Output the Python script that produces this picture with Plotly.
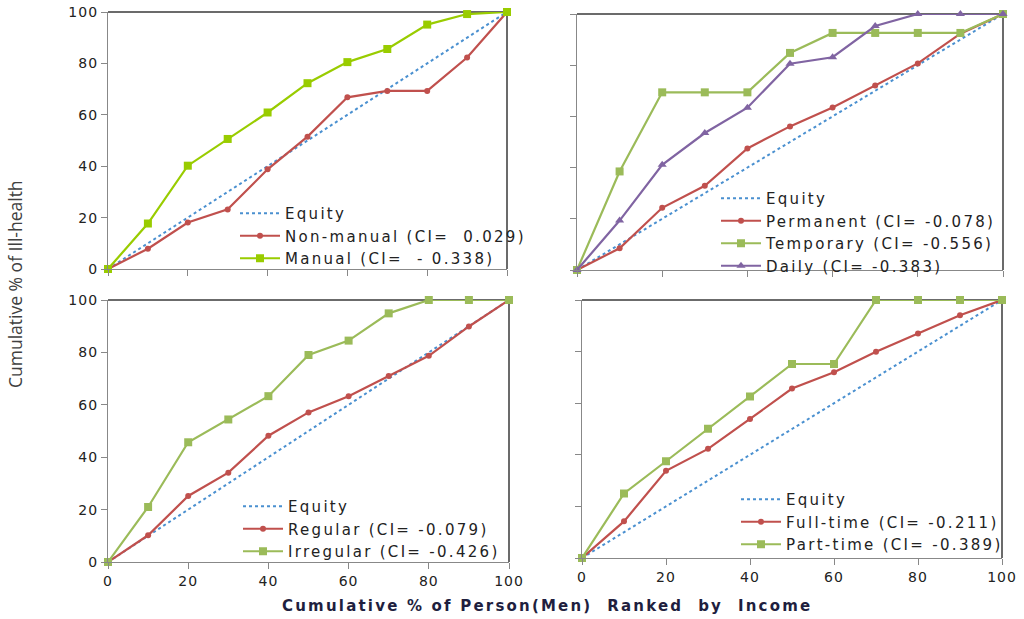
import plotly.graph_objects as go

x_pct = [0, 10, 20, 30, 40, 50, 60, 70, 80, 90, 100]
equity = [0, 10, 20, 30, 40, 50, 60, 70, 80, 90, 100]

# Panel 1: occupation
non_manual = [0, 7.9, 18.1, 23.2, 38.8, 51.5, 66.8, 69.3, 69.3, 82.3, 100]
manual = [0, 17.7, 40.2, 50.6, 60.9, 72.3, 80.5, 85.6, 95.1, 99.2, 100]
# Panel 2: employment status
permanent = [0, 8.5, 24.3, 32.9, 47.5, 56.1, 63.5, 72.1, 80.7, 92.3, 100]
temporary = [0, 38.5, 69.4, 69.4, 69.4, 84.8, 92.6, 92.6, 92.6, 92.6, 100]
daily = [0, 19.3, 41.1, 53.5, 63.4, 80.6, 83.1, 95.3, 100, 100, 100]
# Panel 3: regularity
regular = [0, 10.2, 25.2, 34.1, 48.2, 57.1, 63.3, 71.0, 78.7, 89.9, 100]
irregular = [0, 21.0, 45.7, 54.4, 63.3, 79.0, 84.5, 94.9, 100, 100, 100]
# Panel 4: working time
full_time = [0, 14.2, 33.8, 42.3, 53.9, 65.7, 72.0, 79.9, 87.0, 94.1, 100]
part_time = [0, 25.0, 37.5, 50.1, 62.6, 75.2, 75.2, 100, 100, 100, 100]

tick_vals = [0, 20, 40, 60, 80, 100]
tick_text = ["0", "20", "40", "60", "80", "100"]

RED = "#C0504D"
GREEN = "#9BBB59"
LIME = "#99CC00"
PURPLE = "#8064A2"
BLUE = "#4A90D0"

W, H = 1024, 619


def spaced(s, ls):
    return f'<span style="letter-spacing:{ls}px">{s}</span>'


# panel pixel boxes: (left, right, top, bottom)
boxes = [
    (108, 507, 12, 269),
    (577, 1003, 14, 270),
    (108, 509, 300, 562),
    (582, 1002, 300, 558),
]

fig = go.Figure()

panels = [
    [("Equity", equity, BLUE, None), ("Non-manual (CI=  0.029)", non_manual, RED, "circle"),
     ("Manual (CI=  - 0.338)", manual, LIME, "square")],
    [("Equity", equity, BLUE, None), ("Permanent (CI= -0.078)", permanent, RED, "circle"),
     ("Temporary (CI= -0.556)", temporary, GREEN, "square"), ("Daily (CI= -0.383)", daily, PURPLE, "triangle-up")],
    [("Equity", equity, BLUE, None), ("Regular (CI= -0.079)", regular, RED, "circle"),
     ("Irregular (CI= -0.426)", irregular, GREEN, "square")],
    [("Equity", equity, BLUE, None), ("Full-time (CI= -0.211)", full_time, RED, "circle"),
     ("Part-time (CI= -0.389)", part_time, GREEN, "square")],
]

legend_pos = [(235, 197), (716, 182), (238, 490), (736, 483)]

msize = {"circle": 6, "square": 8, "triangle-up": 8}

for i, series in enumerate(panels):
    n = i + 1
    xa = "x" if n == 1 else f"x{n}"
    ya = "y" if n == 1 else f"y{n}"
    lg = "legend" if n == 1 else f"legend{n}"
    for name, vals, col, sym in series:
        label = spaced(name, 2.3)
        if sym is None:
            fig.add_trace(go.Scatter(x=x_pct, y=vals, mode="lines", name=label,
                                     line=dict(color=col, width=2, dash="dot"),
                                     xaxis=xa, yaxis=ya, legend=lg, cliponaxis=False))
        else:
            fig.add_trace(go.Scatter(x=x_pct, y=vals, mode="lines+markers", name=label,
                                     line=dict(color=col, width=2.2),
                                     marker=dict(symbol=sym, size=msize[sym], color=col),
                                     xaxis=xa, yaxis=ya, legend=lg, cliponaxis=False))

layout = dict(
    width=W, height=H,
    margin=dict(l=0, r=0, t=0, b=0),
    paper_bgcolor="white", plot_bgcolor="white",
    font=dict(family="DejaVu Sans", color="#222222"),
    showlegend=True,
)

tick_labels = [spaced(t, 1) for t in tick_text]

for i, (l, r, t, b) in enumerate(boxes):
    n = i + 1
    kx = "xaxis" if n == 1 else f"xaxis{n}"
    ky = "yaxis" if n == 1 else f"yaxis{n}"
    ya = "y" if n == 1 else f"y{n}"
    xa = "x" if n == 1 else f"x{n}"
    layout[kx] = dict(domain=[l / W, r / W], range=[0, 100], anchor=ya,
                      tickvals=tick_vals, ticktext=tick_labels, showticklabels=(n >= 3),
                      ticks="outside", ticklen=6, tickcolor="#888888",
                      showline=True, linecolor="#888888", linewidth=1.3,
                      showgrid=False, zeroline=False, automargin=False,
                      tickfont=dict(size=14, color="#222222"))
    layout[ky] = dict(domain=[1 - b / H, 1 - t / H], range=[0, 100], anchor=xa,
                      tickvals=tick_vals, ticktext=tick_labels, showticklabels=(n in (1, 3)),
                      ticks="outside", ticklen=6, tickcolor="#888888",
                      showline=True, linecolor="#888888", linewidth=1.3,
                      showgrid=False, zeroline=False, automargin=False,
                      tickfont=dict(size=14, color="#222222"))
    lx, ly = legend_pos[i]
    layout["legend" if n == 1 else f"legend{n}"] = dict(
        x=lx / W, y=1 - ly / H, xanchor="left", yanchor="top",
        bgcolor="rgba(0,0,0,0)", font=dict(size=15, color="#222222", family="DejaVu Sans"),
        itemwidth=40, tracegroupgap=0)

fig.update_layout(**layout)

shapes = []
for i in range(4):
    n = i + 1
    xa = "x" if n == 1 else f"x{n}"
    ya = "y" if n == 1 else f"y{n}"
    shapes.append(dict(type="line", xref=f"{xa} domain", yref=f"{ya} domain",
                       x0=0, x1=1, y0=1, y1=1, line=dict(color="#3a3a3a", width=1.3), layer="below"))
    shapes.append(dict(type="line", xref=f"{xa} domain", yref=f"{ya} domain",
                       x0=1, x1=1, y0=0, y1=1, line=dict(color="#3a3a3a", width=1.5), layer="below"))
fig.update_layout(shapes=shapes)

fig.add_annotation(text=spaced("Cumulative % of Person(Men)&nbsp; Ranked&nbsp; by&nbsp; Income", 2.2),
                   xref="paper", yref="paper",
                   x=547 / W, y=1 - 606 / H, showarrow=False, xanchor="center", yanchor="middle",
                   font=dict(family="DejaVu Sans", size=15, color="#1F1F3F", weight="bold"))
fig.add_annotation(text="Cumulative % of Ill-health", xref="paper", yref="paper",
                   x=15 / W, y=1 - 284 / H, showarrow=False, textangle=-90,
                   xanchor="center", yanchor="middle",
                   font=dict(family="Open Sans", size=17.5, color="#404040"))

fig.write_html("out.html", config={"displayModeBar": False},
               post_script="document.body.style.margin='0';document.body.style.overflow='hidden';")
